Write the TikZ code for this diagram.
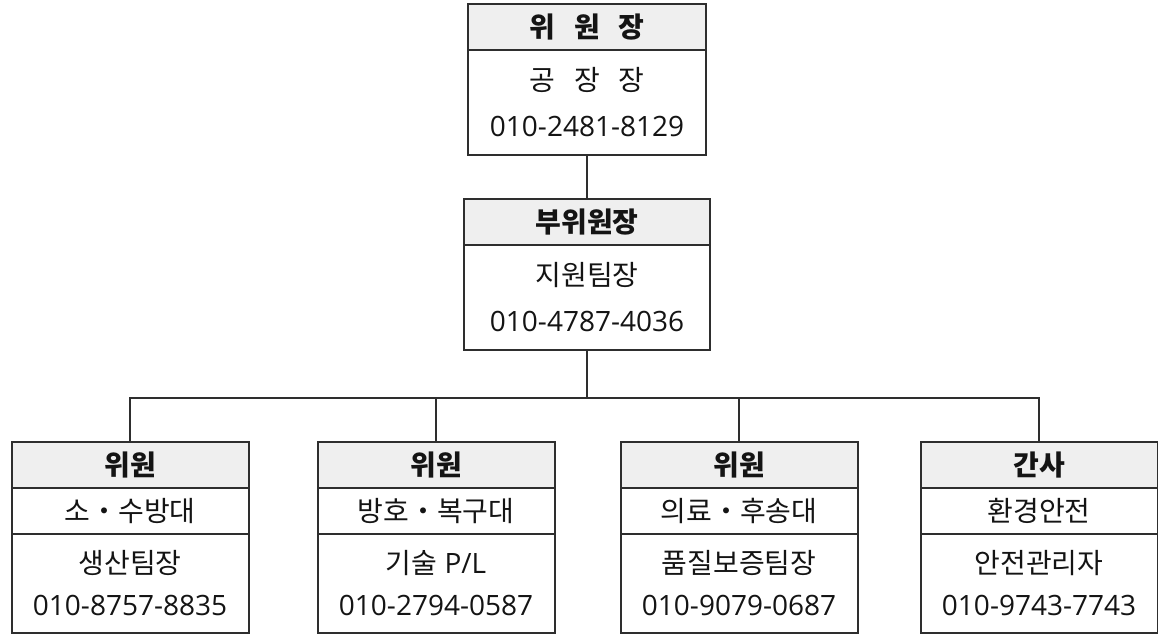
\documentclass[tikz,border=0pt]{standalone}
\usepackage{fontspec}
\setmainfont{Open Sans}
\newfontfamily\krf{Noto Sans CJK KR}
\definecolor{edgegray}{HTML}{2E2E2E}
\definecolor{hdrgray}{HTML}{EFEFEF}
\newcommand{\kr}[1]{{\krf #1}}
\newcommand{\gap}{\hspace{.66em}}

\begin{document}
\begin{tikzpicture}[x=1pt,y=-1pt,
  every node/.style={draw=edgegray,line width=2pt,inner sep=0pt,align=center,
                     text=black!92,font=\fontsize{28}{46}\selectfont},
  hdr/.style={fill=hdrgray,minimum height=46pt,font=\fontsize{28}{30}\selectfont\bfseries},
  top/.style={minimum width=238pt},
  sub/.style={minimum width=237pt},
  row/.style={minimum height=46pt},
  body/.style={minimum height=105pt},
  lowbody/.style={minimum height=99pt,font=\fontsize{28}{42}\selectfont},
  wire/.style={draw=edgegray,line width=2pt}]
 \useasboundingbox (0,0) rectangle (1158,636);

 % committee chair
 \draw (587,27.5)  node[hdr,top] (CH)  {\kr{위\gap 원\gap 장}};
 \draw (587,102.5) node[body,top] (CHb) {\kr{공\gap 장\gap 장}\\010-2481-8129};

 % vice chair
 \draw (587,222.5) node[hdr,minimum width=246pt] (VC)  {\kr{부위원장}};
 \draw (587,297.5) node[body,minimum width=246pt] (VCb) {\kr{지원팀장}\\010-4787-4036};

 % members
 \draw (130,465)   node[hdr,sub] (M1)  {\kr{위원}};
 \draw (130,511)   node[row,sub] (M1r) {\kr{소・수방대}};
 \draw (130,583.5) node[lowbody,sub] (M1b) {\kr{생산팀장}\\010-8757-8835};

 \draw (436,465)   node[hdr,sub] (M2)  {\kr{위원}};
 \draw (436,511)   node[row,sub] (M2r) {\kr{방호・복구대}};
 \draw (436,583.5) node[lowbody,sub] (M2b) {\kr{기술} P/L\\010-2794-0587};

 \draw (739,465)   node[hdr,sub] (M3)  {\kr{위원}};
 \draw (739,511)   node[row,sub] (M3r) {\kr{의료・후송대}};
 \draw (739,583.5) node[lowbody,sub] (M3b) {\kr{품질보증팀장}\\010-9079-0687};

 % secretary
 \draw (1039,465)   node[hdr,sub] (SE)  {\kr{간사}};
 \draw (1039,511)   node[row,sub] (SEr) {\kr{환경안전}};
 \draw (1039,583.5) node[lowbody,sub] (SEb) {\kr{안전관리자}\\010-9743-7743};

 \coordinate (bus) at (587,398);

 \draw[wire] (CHb.south) -- (VC.north);
 \draw[wire] (VCb.south) -- (bus);
 \draw[wire] (bus) -| (M1.north);
 \draw[wire] (bus) -| (M2.north);
 \draw[wire] (bus) -| (M3.north);
 \draw[wire] (bus) -| (SE.north);

\end{tikzpicture}
\end{document}
